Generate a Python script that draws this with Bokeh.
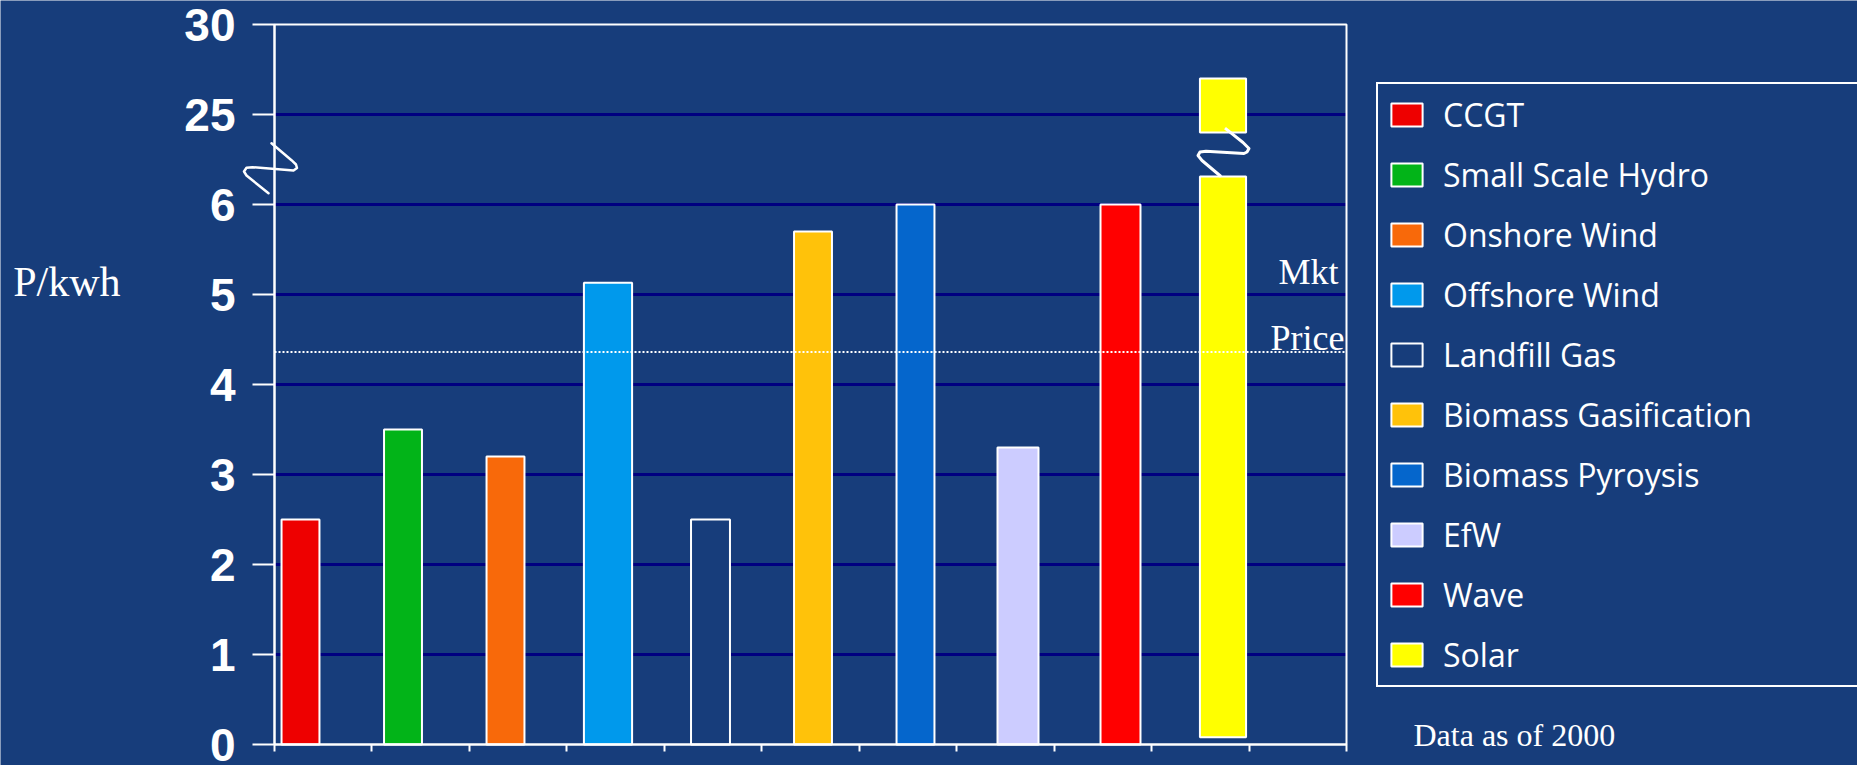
import numpy as np
from bokeh.plotting import figure
from bokeh.models import (Range1d, FixedTicker, Label, ColumnDataSource,
                          PolyAnnotation, BoxAnnotation, LinearAxis)
from bokeh.embed import file_html
from bokeh.resources import INLINE

# ---------------- data ----------------
technologies = ["CCGT", "Small Scale Hydro", "Onshore Wind", "Offshore Wind",
                "Landfill Gas", "Biomass Gasification", "Biomass Pyroysis",
                "EfW", "Wave", "Solar"]
cost_p_per_kwh = [2.5, 3.5, 3.2, 5.13, 2.5, 5.7, 6.0, 3.3, 6.0, 27.0]
market_price = 4.36
y_tick_values = [0, 1, 2, 3, 4, 5, 6, 25, 30]
y_tick_labels = ["0", "1", "2", "3", "4", "5", "6", "25", "30"]
y_axis_title = "P/kwh"
price_label_lines = ["Mkt", "Price"]
note_text = "Data as of 2000"

# ---------------- style ----------------
BG = "#173d7b"
colors = ["#EE0000", "#02B418", "#F8690A", "#0099EC", BG, "#FFC20A",
          "#0566CC", "#CCCCFF", "#FF0000", "#FFFF00"]
bar_widths = [0.37, 0.37, 0.37, 0.47, 0.38, 0.37, 0.37, 0.40, 0.39, 0.45]
W, H = 1857, 765
FL, FR, FT, FB = 274, 1346, 24, 744          # chart box edges in px
PXU = 102.5                                  # px per category
X_START = -(300 - FL) / PXU
X_END = X_START + (FR - FL) / PXU
N_SLOTS = 8
PYU = (FB - FT) / N_SLOTS
BREAK_LO, BREAK_HI = 6.31, 6.80              # gap drawn in a broken bar
SOLAR_FOOT = 0.08
TEXT_SHIFT = 10                              # baseline correction, px

# whole canvas is the frame; the chart box sits inside it
XL = X_START - FL / PXU
XR = X_START + (W - FL) / PXU
YB = -(H - FB) / PYU
YT = FB / PYU


def ypos(v):
    """broken value axis: each listed tick gets one equal slot"""
    return float(np.interp(v, y_tick_values, np.arange(len(y_tick_values))))


brk_top = ypos(y_tick_values[6])
lower_top, upper_bot, upper_top, bottoms = [], [], [], []
for name, v in zip(technologies, cost_p_per_kwh):
    p_ = ypos(v)
    if p_ > brk_top:
        lower_top.append(BREAK_LO)
        upper_bot.append(BREAK_HI)
        upper_top.append(p_)
        bottoms.append(SOLAR_FOOT)
    else:
        lower_top.append(p_)
        upper_bot.append(np.nan)
        upper_top.append(np.nan)
        bottoms.append(0.0)

xs = list(range(len(technologies)))
src = ColumnDataSource(dict(x=xs, top=lower_top, bottom=bottoms, name=technologies,
                            color=colors, w=bar_widths))
up_idx = [i for i in xs if not np.isnan(upper_top[i])]
src_up = ColumnDataSource(dict(x=[xs[i] for i in up_idx],
                               top=[upper_top[i] for i in up_idx],
                               bottom=[upper_bot[i] for i in up_idx],
                               color=[colors[i] for i in up_idx],
                               w=[bar_widths[i] for i in up_idx]))

p = figure(width=W, height=H, x_range=Range1d(XL, XR), y_range=Range1d(YB, YT),
           output_backend="svg", toolbar_location=None,
           x_axis_location=None, y_axis_location=None, min_border=0)
p.background_fill_color = BG
p.border_fill_color = BG
p.outline_line_color = None
p.xgrid.visible = False
p.ygrid.visible = False

# horizontal grid lines, limited to the chart box
grid_levels = list(range(1, N_SLOTS))
p.segment(x0=[X_START] * len(grid_levels), x1=[X_END] * len(grid_levels),
          y0=grid_levels, y1=grid_levels, line_color="#000080", line_width=3,
          level="underlay")

# y axis (broken scale)
yax = LinearAxis(fixed_location=X_START, bounds=(0, N_SLOTS),
                 ticker=FixedTicker(ticks=list(range(len(y_tick_values)))))
yax.major_label_overrides = {i: lab for i, lab in enumerate(y_tick_labels)}
yax.major_label_text_font = "Liberation Sans"
yax.major_label_text_font_style = "bold"
yax.major_label_text_font_size = "46px"
yax.major_label_text_color = "white"
yax.major_label_standoff = 17
yax.major_tick_out = 22
yax.major_tick_in = 0
yax.minor_tick_line_color = None

# x axis (ticks only)
xax = LinearAxis(fixed_location=0, bounds=(X_START, X_END),
                 ticker=FixedTicker(ticks=[X_START + k * (X_END - X_START) / 11
                                           for k in range(12)]))
xax.major_label_text_color = None
xax.major_tick_out = 7
xax.major_tick_in = 0
xax.minor_tick_line_color = None

for ax in (xax, yax):
    ax.axis_line_color = "white"
    ax.axis_line_width = 2
    ax.major_tick_line_color = "white"
    ax.major_tick_line_width = 2

p.add_layout(yax, "left")
p.add_layout(xax, "below")

# bars
p.vbar(x="x", top="top", bottom="bottom", width="w", source=src, fill_color="color",
       line_color="white", line_width=2, legend_field="name")
p.vbar(x="x", top="top", bottom="bottom", width="w", source=src_up, fill_color="color",
       line_color="white", line_width=2)

# market price (dotted, over the bars)
mp = ypos(market_price)
p.segment(x0=[X_START], x1=[X_END], y0=[mp], y1=[mp], line_color="white",
          line_dash="2 2", line_width=2)

# chart box (top/right border)
p.add_layout(BoxAnnotation(left=X_START, right=X_END, bottom=0, top=N_SLOTS,
                           fill_alpha=0, line_color="white", line_width=2, line_alpha=1))

# squiggle in the broken bar
sq_dx = [2, 20, 26, 24, 21, -17, -23, -25, -21, -2]
sq_y = [127.7, 142, 148, 151.5, 153, 150.7, 151.5, 155, 160, 176]
for i in up_idx:
    p.line([xs[i] + d / PXU for d in sq_dx], [(FB - y) / PYU for y in sq_y],
           line_color="white", line_width=3, line_join="round")

# squiggle on the value axis
ax_dx = [-3, 17, 21.5, 22.5, 19, -22, -28, -30.5, -28, -6]
ax_y = [142.7, 159.7, 164, 167.5, 170, 166.7, 167.3, 171, 175, 192.7]
px_ = [X_START + d / PXU for d in ax_dx]
py_ = [(FB - y) / PYU for y in ax_y]
p.add_layout(PolyAnnotation(xs=px_ + px_[-2:0:-1], ys=py_ + py_[-2:0:-1],
                            fill_alpha=0, line_color="white", line_width=2.5,
                            line_alpha=1, line_join="round"))


# texts (screen units = px from the canvas' bottom-left)
def add_text(txt, x, y_px, size, align="left"):
    p.add_layout(Label(x=x, y=H - y_px + TEXT_SHIFT, x_units="screen", y_units="screen",
                       text=txt, text_font="Liberation Serif", text_font_size=size,
                       text_color="white", text_align=align,
                       text_baseline="alphabetic"))


add_text(y_axis_title, 12.7, 291, "42px")
add_text(price_label_lines[0], 1338, 281, "36px", "right")
add_text(price_label_lines[1], 1344, 347.7, "36px", "right")
add_text(note_text, 1413, 744.5, "32px")

# legend
lg = p.legend[0]
lg.location = (1376, H - 686.5)
lg.border_line_color = "white"
lg.border_line_width = 2
lg.border_line_alpha = 1
lg.background_fill_alpha = 0
lg.label_text_color = "white"
lg.label_text_font = "Open Sans"
lg.label_text_font_size = "32px"
lg.glyph_width = 39
lg.glyph_height = 29
lg.label_standoff = 17
lg.padding = 9
lg.spacing = 17
lg.label_width = 600
lg.margin = 0

open("out.html", "w").write(file_html(p, INLINE))
